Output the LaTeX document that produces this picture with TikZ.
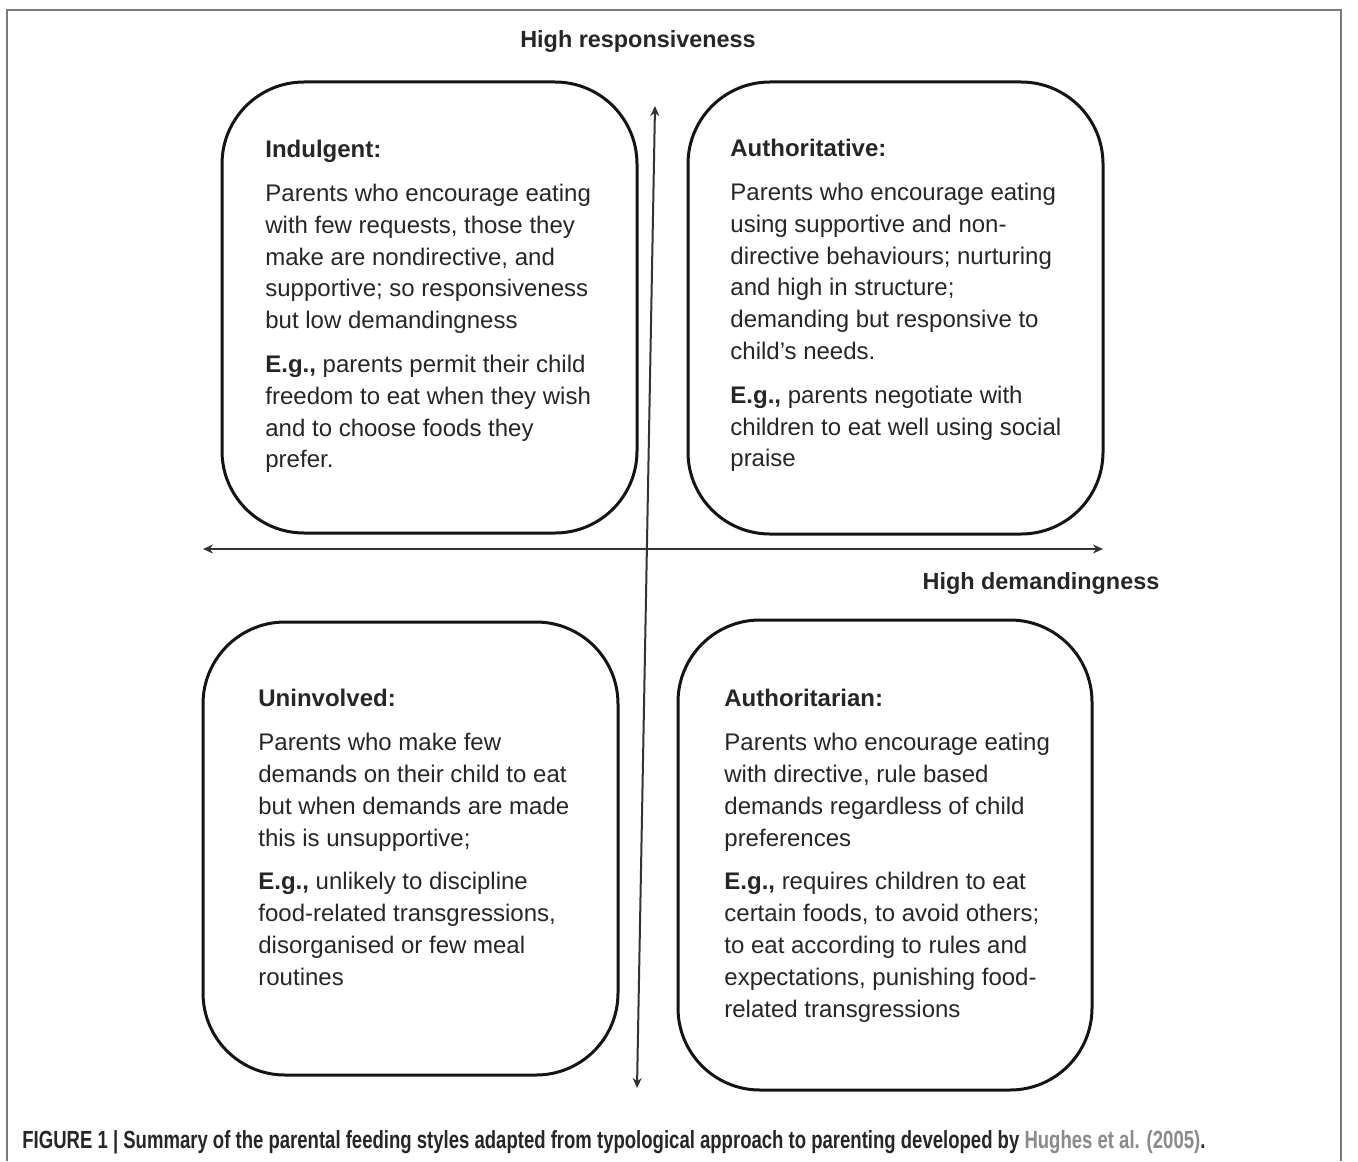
\documentclass[tikz,border=0pt]{standalone}
\usepackage{fontspec}
\setmainfont{Liberation Sans}
\usetikzlibrary{arrows.meta}
\definecolor{txt}{HTML}{262626}
\definecolor{framegray}{HTML}{7A7A7A}
\definecolor{citegray}{HTML}{8A8A8A}
\begin{document}
\begin{tikzpicture}[x=0.5pt,y=-0.5pt,
  quad/.style={draw=black!92, line width=1.5pt, rounded corners=41pt, inner sep=0pt},
  body/.style={anchor=north west, align=left, inner sep=0pt, text=txt, font=\fontsize{12}{15.9}\selectfont},
  axisline/.style={draw=black!80, line width=1pt, {Stealth[length=5pt,width=4.5pt]}-{Stealth[length=5pt,width=4.5pt]}},
  lab/.style={font=\bfseries\fontsize{11.7}{14}\selectfont, text=txt, inner sep=0pt}
]
\fill[white] (0,0) rectangle (1358,1161);
\useasboundingbox (0,0) rectangle (1358,1161);
\draw[framegray, line width=1pt] (7,1161) -- (7,10) -- (1341,10) -- (1341,1161);

% boxes
\node[quad, minimum width=207.5pt, minimum height=225.5pt] (ind) at (429.5,307.5) {};
\node[quad, minimum width=207.5pt, minimum height=226pt] (aut) at (895.5,308) {};
\node[quad, minimum width=207.5pt, minimum height=226.5pt] (uni) at (410.5,848.5) {};
\node[quad, minimum width=207pt, minimum height=235pt] (atn) at (885,855) {};

% axes
\coordinate (vtop) at (655,106);
\coordinate (vbot) at (637,1088);
\coordinate (hl) at (203,549);
\coordinate (hr) at (1103,549);
\draw[axisline] (vbot) -- (vtop);
\draw[axisline] (hl) -- (hr);

\node[lab] (hresp) at (638,42) {High responsiveness};
\node[lab] (hdem) at (1041,583) {High demandingness};

% texts
\node[body] (tind) at (265,140) {\textbf{Indulgent:}\\[6pt]
Parents who encourage eating\\ with few requests, those they\\ make are nondirective, and\\ supportive; so responsiveness\\ but low demandingness\\[6pt]
\textbf{E.g.,} parents permit their child\\ freedom to eat when they wish\\ and to choose foods they\\ prefer.};

\node[body] (taut) at (730,139) {\textbf{Authoritative:}\\[6pt]
Parents who encourage eating\\ using supportive and non-\\ directive behaviours; nurturing\\ and high in structure;\\ demanding but responsive to\\ child's needs.\\[6pt]
\textbf{E.g.,} parents negotiate with\\ children to eat well using social\\ praise};

\node[body] (tuni) at (258,689) {\textbf{Uninvolved:}\\[6pt]
Parents who make few\\ demands on their child to eat\\ but when demands are made\\ this is unsupportive;\\[6pt]
\textbf{E.g.,} unlikely to discipline\\ food-related transgressions,\\ disorganised or few meal\\ routines};

\node[body] (tatn) at (724,689) {\textbf{Authoritarian:}\\[6pt]
Parents who encourage eating\\ with directive, rule based\\ demands regardless of child\\ preferences\\[6pt]
\textbf{E.g.,} requires children to eat\\ certain foods, to avoid others;\\ to eat according to rules and\\ expectations, punishing food-\\ related transgressions};

% caption
\node[anchor=west, inner sep=0pt, text=txt] (cap) at (22,1142) {\resizebox{591.5pt}{\height}{\bfseries\fontsize{12.4}{14}\selectfont FIGURE 1 | Summary of the parental feeding styles adapted from typological approach to parenting developed by \textcolor{citegray}{Hughes et al. (2005)}.}};
\end{tikzpicture}
\end{document}
